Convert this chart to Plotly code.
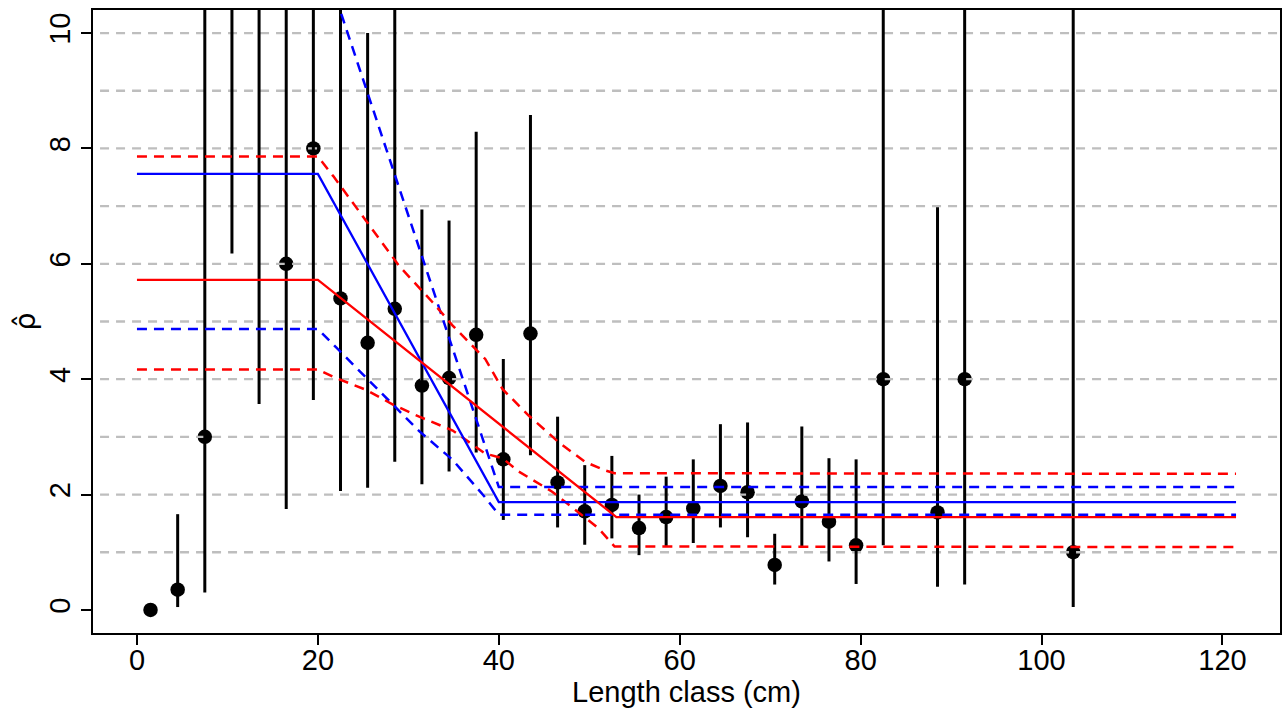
import plotly.graph_objects as go

# ---- data ----
length_mid = [1.5, 4.5, 7.5, 10.5, 13.5, 16.5, 19.5, 22.5, 25.5, 28.5, 31.5, 34.5, 37.5,
              40.5, 43.5, 46.5, 49.5, 52.5, 55.5, 58.5, 61.5, 64.5, 67.5, 70.5, 73.5,
              76.5, 79.5, 82.5, 88.5, 91.5, 103.5]
rho_hat = [0.0, 0.35, 3.0, 12.0, 11.0, 6.0, 8.0, 5.4, 4.63, 5.22, 3.89, 4.02, 4.77,
           2.61, 4.79, 2.21, 1.71, 1.82, 1.42, 1.61, 1.76, 2.15, 2.04, 0.78, 1.88,
           1.53, 1.12, 4.0, 1.69, 4.0, 1.0]
ci_low = [0.0, 0.05, 0.3, 6.18, 3.57, 1.75, 3.64, 2.06, 2.12, 2.57, 2.18, 2.4, 2.73,
          1.56, 2.68, 1.43, 1.13, 1.24, 0.95, 1.1, 1.16, 1.43, 1.26, 0.44, 1.1,
          0.84, 0.45, 1.12, 0.40, 0.44, 0.05]
ci_high = [0.0, 1.66, 20.0, 25.0, 25.0, 20.0, 20.0, 20.0, 10.0, 20.0, 6.94, 6.75, 8.29,
           4.35, 8.58, 3.35, 2.51, 2.67, 2.0, 2.31, 2.61, 3.22, 3.25, 1.32, 3.18,
           2.63, 2.61, 20.0, 6.98, 20.0, 20.0]

blue_fit_x = [0, 20, 40, 121.5]
blue_fit_y = [7.56, 7.56, 1.87, 1.87]
blue_up_x = [0, 20, 34.9, 40, 121.5]
blue_up_y = [11.55, 11.55, 4.53, 2.13, 2.13]
blue_lo_x = [0, 20, 31.2, 34.9, 38.5, 40, 121.5]
blue_lo_y = [4.87, 4.87, 3.1, 2.6, 1.95, 1.65, 1.65]

red_fit_x = [0, 20, 53, 121.5]
red_fit_y = [5.72, 5.72, 1.61, 1.61]
red_up_x = [0, 20, 21.7, 29, 32.7, 34.9, 38.5, 40.4, 43.3, 46.6, 49.5, 51.7, 52.8, 121.5]
red_up_y = [7.86, 7.86, 7.52, 5.96, 5.33, 4.93, 4.35, 3.83, 3.37, 2.91, 2.57, 2.42, 2.37, 2.36]
red_lo_x = [0, 20, 21.7, 25.4, 28.3, 31.2, 34.9, 38.5, 40.4, 42.2, 45.9, 48.8, 51.0, 52.8, 121.5]
red_lo_y = [4.17, 4.17, 4.04, 3.81, 3.56, 3.35, 3.11, 2.71, 2.63, 2.40, 2.05, 1.70, 1.42, 1.10, 1.09]

grid_levels = [1, 2, 3, 4, 5, 6, 7, 8, 9, 10]
x_ticks = [0, 20, 40, 60, 80, 100, 120]
y_ticks = [0, 2, 4, 6, 8, 10]

FONT = "Liberation Sans, Arial, sans-serif"

fig = go.Figure()

# points
fig.add_trace(go.Scatter(x=length_mid, y=rho_hat, mode="markers",
                         marker=dict(color="black", size=14.5), cliponaxis=True,
                         showlegend=False, hoverinfo="skip"))

# horizontal dashed reference lines (drawn over the points)
gx, gy = [], []
for g in grid_levels:
    gx += [-20, 140, None]
    gy += [g, g, None]
fig.add_trace(go.Scatter(x=gx, y=gy, mode="lines",
                         line=dict(color="#BEBEBE", width=2.3, dash="9px,7px"),
                         showlegend=False, hoverinfo="skip"))

# error bars
ex, ey = [], []
for xm, lo, hi in zip(length_mid, ci_low, ci_high):
    ex += [xm, xm, None]
    ey += [lo, hi, None]
fig.add_trace(go.Scatter(x=ex, y=ey, mode="lines",
                         line=dict(color="black", width=3),
                         showlegend=False, hoverinfo="skip"))

def add_line(x, y, color, dash):
    fig.add_trace(go.Scatter(x=x, y=y, mode="lines",
                             line=dict(color=color, width=2.3 if dash == "solid" else 2.5,
                                       dash=dash),
                             showlegend=False, hoverinfo="skip"))

add_line(blue_up_x, blue_up_y, "#0000FF", "10px,7px")
add_line(blue_lo_x, blue_lo_y, "#0000FF", "10px,7px")
add_line(red_up_x, red_up_y, "#FF0000", "10px,7px")
add_line(red_lo_x, red_lo_y, "#FF0000", "10px,7px")
add_line(blue_fit_x, blue_fit_y, "#0000FF", "solid")
add_line(red_fit_x, red_fit_y, "#FF0000", "solid")

fig.update_layout(
    width=1283, height=712,
    margin=dict(l=93, r=3, t=10, b=79),
    paper_bgcolor="white", plot_bgcolor="white",
    font=dict(family=FONT, size=29, color="black"),
    showlegend=False,
)
fig.update_xaxes(
    range=[-4.86, 126.36], tickvals=x_ticks, ticktext=[str(v) for v in x_ticks],
    showgrid=False, zeroline=False, automargin=False,
    showline=True, linecolor="black", linewidth=1.5, mirror=True,
    ticks="outside", ticklen=10, tickwidth=1.5, tickcolor="black",
    tickfont=dict(size=29), ticklabelstandoff=-10,
    title=dict(text="Length class (cm)", font=dict(size=29), standoff=0),
)
fig.update_yaxes(
    range=[-0.4, 10.4], tickvals=y_ticks, ticktext=[str(v) for v in y_ticks],
    showgrid=False, zeroline=False, automargin=False,
    showline=True, linecolor="black", linewidth=1.5, mirror=True,
    ticks="outside", ticklen=10, tickwidth=1.5, tickcolor="black",
    tickangle=-90, tickfont=dict(size=29),
    title=dict(text="ρ̂", font=dict(size=29, family="DejaVu Sans"), standoff=0),
)

fig.write_html("out.html",
               config={"displayModeBar": False},
               post_script="document.body.style.margin='0';document.body.style.overflow='hidden';")
